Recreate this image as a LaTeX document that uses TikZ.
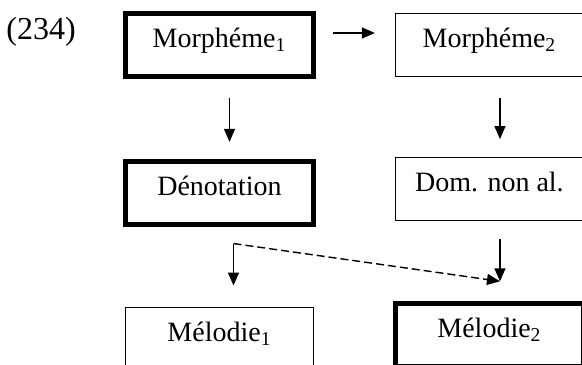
\documentclass[tikz,border=0pt]{standalone}
\usepackage{fontspec}
\setmainfont{Liberation Serif}
\usetikzlibrary{positioning, arrows.meta}

\begin{document}
\begin{tikzpicture}[x=0.5pt, y=-0.5pt, node distance=40pt and 39.5pt,
      unit/.style={rectangle, draw, line width=0.6pt, minimum width=94pt, inner sep=0pt,
      text height=17pt, text depth=14.5pt, font=\fontsize{14}{16.5}\selectfont},
      marked/.style={unit, line width=2.35pt},
      arr/.style={-{Triangle[length=6.5pt, width=5.5pt]}, line width=0.7pt}
    ]
      \useasboundingbox (0,0) rectangle (582,364);
      \node[anchor=base west, inner sep=0pt, font=\fontsize{16}{19}\selectfont] (num) at (6,39) {(234)};
      \node[marked] (m1) at (219.5,45) {Morphéme\textsubscript{1}};
      \node[unit, right=of m1] (m2) {Morphéme\textsubscript{2}};
      \node[marked, below=of m1] (den) {Dénotation};
      \node[unit, below=of m2] (dom) {Dom. non al.};
      \node[unit, below=of den] (mel1) {Mélodie\textsubscript{1}};
      \node[marked, below=of dom] (mel2) {Mélodie\textsubscript{2}};

      \draw[arr, shorten <=8.5pt, shorten >=10pt] ([yshift=6pt]m1.east) -- ([yshift=6pt]m2.west);
      \draw[arr, shorten <=9.5pt, shorten >=8.5pt] ([xshift=5pt]m1.south) -- ([xshift=5pt]den.north);
      \draw[arr, shorten <=10.5pt, shorten >=9pt] ([xshift=5.25pt]m2.south) -- ([xshift=5.25pt]dom.north);

      % fork under Denotation
      \coordinate (fork) at ([xshift=7pt, yshift=-8.5pt]den.south);
      \coordinate (tip) at ([xshift=5.25pt, yshift=10pt]mel2.north);
      \draw[arr, shorten >=10.5pt] (fork) -- (fork |- mel1.north);
      \draw[arr, shorten <=9pt] ([xshift=5.25pt]dom.south) -- (tip);
      \draw[arr, dash pattern=on 4pt off 2pt] (fork) -- (tip);
    \end{tikzpicture}
\end{document}
